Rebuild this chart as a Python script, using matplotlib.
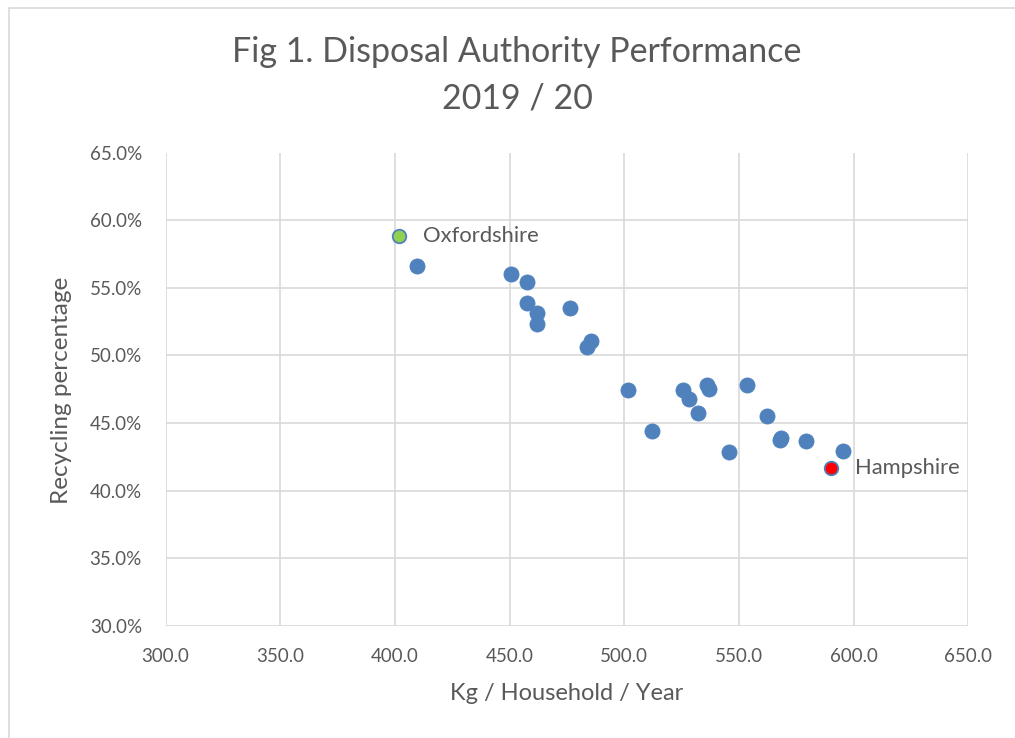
import matplotlib
matplotlib.use("Agg")
import matplotlib.pyplot as plt
from matplotlib.ticker import FuncFormatter
from matplotlib.patches import Rectangle

# ---- data ----
kg_per_household = [409.5, 450.6, 457.7, 457.5, 461.8, 461.8, 476.5, 483.7, 485.5,
                    501.6, 511.9, 525.4, 528.4, 532.1, 535.9, 536.9, 545.6, 553.4,
                    562.3, 567.9, 568.3, 579.2, 595.3]
recycling_pct = [56.6, 56.05, 55.4, 53.9, 53.15, 52.35, 53.5, 50.65, 51.1,
                 47.45, 44.4, 47.45, 46.75, 45.75, 47.85, 47.5, 42.85, 47.8,
                 45.5, 43.75, 43.9, 43.65, 42.9]
highlight_names = ["Oxfordshire", "Hampshire"]
highlight_kg = [401.8, 590.0]
highlight_pct = [58.8, 41.7]
highlight_colors = ["#92D050", "#FF0000"]

x_ticks = [300, 350, 400, 450, 500, 550, 600, 650]
y_ticks = [30, 35, 40, 45, 50, 55, 60, 65]

title_lines = ["Fig 1. Disposal Authority Performance", "2019 / 20"]
x_label = "Kg / Household / Year"
y_label = "Recycling percentage"

# ---- style ----
FONT = "Lato"
TXT = "#595959"
GRID = "#D9D9D9"
BLUE = "#4F81BD"
plt.rcParams["font.family"] = [FONT, "DejaVu Sans"]

fig = plt.figure(figsize=(10.15, 7.38), dpi=100)
W, H = 1015, 738

# chart-area border (cropped at right/bottom)
fig.patches.append(Rectangle((9 / W, -0.1), 1.2, 1 - 8 / H + 0.1,
                             transform=fig.transFigure, fill=False,
                             edgecolor=GRID, linewidth=1.2, zorder=0))

ax = fig.add_axes([165.5 / W, 1 - 626 / H, (968.4 - 165.5) / W, (626 - 152.5) / H])
ax.set_xlim(x_ticks[0], x_ticks[-1])
ax.set_ylim(y_ticks[0], y_ticks[-1])
ax.set_xticks(x_ticks)
ax.set_yticks(y_ticks)
ax.xaxis.set_major_formatter(FuncFormatter(lambda v, p: f"{v:.1f}"))
ax.yaxis.set_major_formatter(FuncFormatter(lambda v, p: f"{v:.1f}%"))
ax.grid(True, color=GRID, linewidth=1.2)
ax.set_axisbelow(True)
for s in ax.spines.values():
    s.set_visible(False)
ax.tick_params(length=0, labelsize=13.5, labelcolor=TXT)
ax.tick_params(axis="y", pad=17)
ax.tick_params(axis="x", pad=16)

ax.scatter(kg_per_household, recycling_pct, s=118, color=BLUE,
           edgecolors=BLUE, linewidths=0.6, zorder=3)
for name, xk, yp, c in zip(highlight_names, highlight_kg, highlight_pct, highlight_colors):
    ax.scatter([xk], [yp], s=95, color=c, edgecolors=BLUE, linewidths=1.3, zorder=4)
    ax.annotate(name, (xk, yp), xytext=(17.5, 0), textcoords="offset points",
                va="center", ha="left", fontsize=15.8, color=TXT)

fig.text(517 / W, 1 - 52 / H, title_lines[0], ha="center", va="center",
         fontsize=24.5, color=TXT)
fig.text(517 / W, 1 - 98 / H, title_lines[1], ha="center", va="center",
         fontsize=24.5, color=TXT)
fig.text(567 / W, 1 - 693 / H, x_label, ha="center", va="center",
         fontsize=17, color=TXT)
fig.text(62 / W, 1 - 390 / H, y_label, ha="center", va="center",
         rotation=90, fontsize=17.5, color=TXT)

fig.savefig("out.png", dpi=100, facecolor="white")
